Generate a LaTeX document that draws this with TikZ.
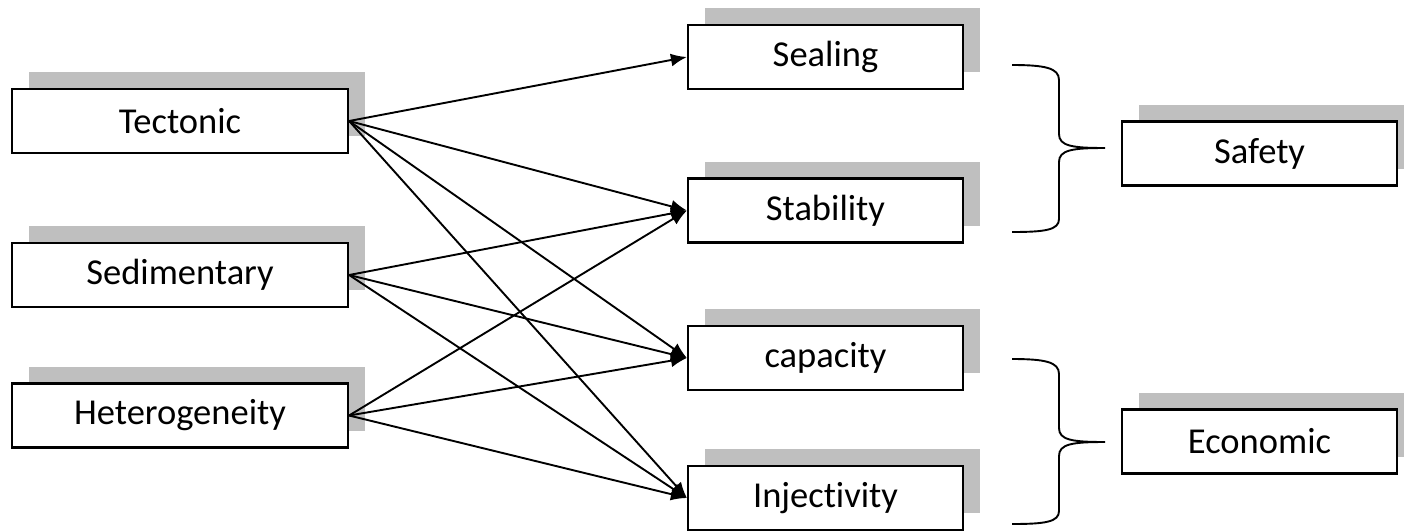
\documentclass[tikz,border=0pt]{standalone}
\usepackage{fontspec}
\setmainfont{Carlito}[Ligatures=NoCommon]
\usetikzlibrary{arrows.meta,shadows}
\begin{document}
\begin{tikzpicture}[x=1pt,y=-1pt,
  box/.style={draw=black,line width=2.2pt,fill=white,inner sep=0pt,
    minimum height=64pt,font=\fontsize{36.5}{44}\selectfont,
    drop shadow={shadow xshift=16.5pt,shadow yshift=17pt,fill=black!25,opacity=1,draw=none}},
  lbox/.style={box,minimum width=336pt},
  rbox/.style={box,minimum width=275pt},
  link/.style={line width=1.9pt,-{Latex[length=16pt,width=13pt]}},
  brace/.style={line width=1.9pt}]
\useasboundingbox (0,0) rectangle (1404,531);
% left column
\node[lbox] (tec) at (180,121) {Tectonic};
\node[lbox] (sed) at (180,275) {Sedimentary};
\node[lbox] (het) at (180,415.5) {Heterogeneity};
% middle column
\node[rbox] (seal) at (825.5,57) {Sealing};
\node[rbox] (stab) at (825.5,210.5) {Stability};
\node[rbox] (cap) at (825.5,358) {capacity};
\node[rbox] (inj) at (825.5,498) {Injectivity};
% right column
\node[rbox] (safe) at (1259.5,153.5) {Safety};
\node[rbox] (eco) at (1259.5,441.5) {Economic};
% links
\draw[link] (tec.east) -- (seal.west);
\draw[link] (tec.east) -- (stab.west);
\draw[link] (tec.east) -- (cap.west);
\draw[link] (tec.east) -- (inj.west);
\draw[link] (sed.east) -- (stab.west);
\draw[link] (sed.east) -- (cap.west);
\draw[link] (sed.east) -- (inj.west);
\draw[link] (het.east) -- (stab.west);
\draw[link] (het.east) -- (cap.west);
\draw[link] (het.east) -- (inj.west);
% braces
\draw[brace] (1012,65) .. controls (1045,65) and (1059,68) .. (1059,80)
  -- (1059,134) .. controls (1059,146) and (1072,148) .. (1105,148)
  .. controls (1072,148) and (1059,150) .. (1059,162)
  -- (1059,219) .. controls (1059,230) and (1045,232) .. (1012,232);
\draw[brace] (1012,359) .. controls (1045,359) and (1059,362) .. (1059,374)
  -- (1059,428) .. controls (1059,440) and (1072,442) .. (1105,442)
  .. controls (1072,442) and (1059,444) .. (1059,456)
  -- (1059,511) .. controls (1059,522) and (1045,524) .. (1012,524);
\end{tikzpicture}
\end{document}
